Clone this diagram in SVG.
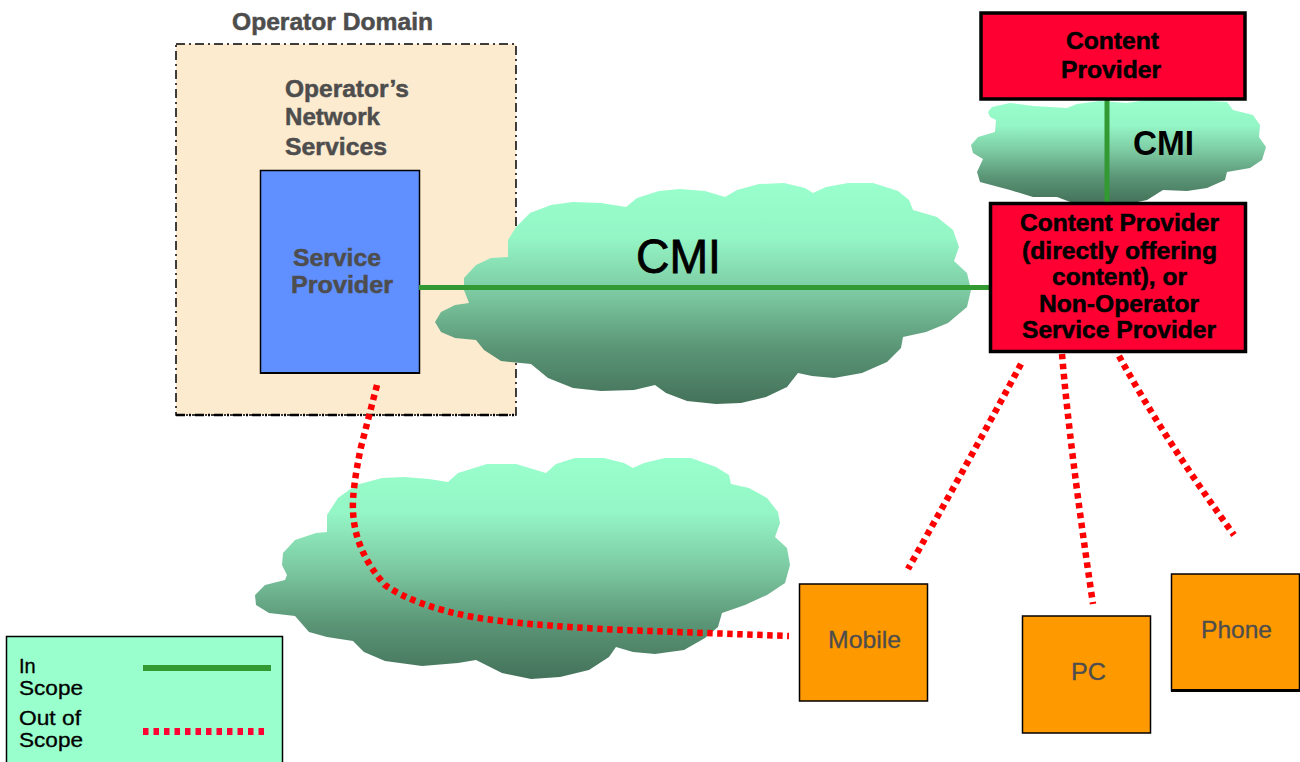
<svg xmlns="http://www.w3.org/2000/svg" width="1300" height="762" viewBox="0 0 1300 762">
<style>
text{font-family:"Liberation Sans",Arial,sans-serif}
.g{fill:#4d4d4d}
.k{fill:#000}
.b{font-weight:bold;font-size:24px}
.hb{stroke-width:.5}
.g.b{stroke:#4d4d4d}
.k.b{stroke:#000}
.r{font-size:24px;stroke:#4d4d4d;stroke-width:.3}
.l{font-size:20px;stroke:#000;stroke-width:.3}
.box{stroke:#000;stroke-width:1.5}
.red{fill:#f03;stroke:#000;stroke-width:3.5}
.or{fill:#f90;stroke:#000;stroke-width:1.5}
.cloud{fill:url(#cg)}
.in{stroke:#393;stroke-width:5;fill:none}
.out{stroke:#f00;stroke-width:6.5;stroke-dasharray:5.5 4.5;fill:none}
</style>
<defs>
<linearGradient id="cg" x1="0" y1="0" x2="0" y2="1">
<stop offset="0" stop-color="#9fc"/>
<stop offset=".25" stop-color="#94f5c5"/>
<stop offset=".5" stop-color="#7cc9a1"/>
<stop offset=".75" stop-color="#5a9576"/>
<stop offset="1" stop-color="#44725a"/>
</linearGradient>
</defs>
<rect width="1300" height="762" fill="#fff"/>

<g id="operator-domain">
<text class="g b hb" x="232" y="30" textLength="201" lengthAdjust="spacingAndGlyphs">Operator Domain</text>
<rect x="176" y="44" width="340" height="371" fill="#fdebcf" stroke="#000" stroke-width="1.5" stroke-dasharray="9 4 2 4"/>
<path d="M176 415H516" stroke="#000" stroke-width="2.5" stroke-dasharray="9 4 2 4" fill="none"/>
<text class="g b hb" x="285" y="97" textLength="124" lengthAdjust="spacingAndGlyphs">Operator’s</text>
<text class="g b hb" x="285" y="125" textLength="95" lengthAdjust="spacingAndGlyphs">Network</text>
<text class="g b hb" x="285" y="155" textLength="102" lengthAdjust="spacingAndGlyphs">Services</text>
</g>
<g id="service-provider">
<rect class="box" x="260.5" y="170.5" width="159" height="202.5" fill="#6090ff"/>
<path d="M260 373H420" stroke="#000" stroke-width="2"/>
<text class="g b hb" x="293" y="266" textLength="88" lengthAdjust="spacingAndGlyphs">Service</text>
<text class="g b hb" x="291" y="293" textLength="102" lengthAdjust="spacingAndGlyphs">Provider</text>
</g>

<g id="cloud-main">
<path class="cloud" d="M508 257L508 240L516 227L530 213L551 205L573 202L601 203L626 207L637 198L659 191L680 189L705 191L725 197L737 190L759 184L784 183L805 188L813 193L826 187L848 183L873 183L898 191L909 200L913 210L937 217L953 230L959 247L954 261L967 273L971 290L967 307L948 323L926 332L903 337L901 348L887 362L862 373L834 378L812 376L798 373L787 387L766 397L741 403L716 404L687 401L666 393L655 385L634 390L601 391L573 388L548 378L531 364L501 361L484 350L476 340L455 338L441 332L435 322L441 312L455 305L469 303L464 290L464 278L476 265L491 258Z"/>
<text x="636" y="273" font-size="48" stroke="#000" stroke-width=".8" textLength="85" lengthAdjust="spacingAndGlyphs">CMI</text>
</g>
<g id="cloud-top">
<path class="cloud" d="M988 112L992 107L1010 103L1033 106L1067 108L1077 104L1100 101L1127 103L1147 100L1193 100L1227 102L1233 110L1253 115L1260 125L1259 137L1266 147L1262 160L1250 168L1227 172L1225 180L1207 188L1187 191L1163 190L1147 200L1133 203L1073 203L1057 197L1033 197L1010 190L980 182L977 172L983 159L973 153L971 145L978 137L995 132L996 120L990 117Z"/>
<text class="k" x="1133" y="155" font-size="35" font-weight="bold" textLength="61" lengthAdjust="spacingAndGlyphs">CMI</text>
</g>
<g id="cloud-lower">
<path class="cloud" d="M327 532L327 515L338 498L356 485L382 478L404 477L429 479L448 482L458 473L487 464L516 464L546 473L556 464L575 458L604 458L624 463L633 468L644 463L665 458L691 458L716 467L729 475L731 484L749 488L767 498L778 512L780 523L775 537L787 548L790 565L785 583L767 595L745 605L722 613L718 627L705 638L684 650L655 654L633 652L616 647L609 657L589 670L560 677L531 679L502 673L476 660L458 663L422 666L385 661L364 652L353 641L327 637L309 632L295 616L269 613L256 605L255 595L265 585L285 580L287 575L282 565L283 553L295 540L316 533Z"/>
</g>

<g id="connectors">
<path class="in" d="M419 287.5H990"/>
<path class="in" d="M1107 99V203"/>
<path class="out" d="M377 385L361 447Q352 490 353 510Q354 550 385 585Q415 606 473 617Q520 625 622 630L789 636"/>
<path class="out" d="M1021 364Q975 450 908 569"/>
<path class="out" d="M1062 354Q1070 450 1093 604"/>
<path class="out" d="M1119 356Q1165 440 1234 535"/>
</g>

<g id="content-provider">
<rect class="red" x="981" y="13" width="264" height="86"/>
<text class="k b hb" x="1066" y="49" textLength="93" lengthAdjust="spacingAndGlyphs">Content</text>
<text class="k b hb" x="1061" y="78" textLength="100" lengthAdjust="spacingAndGlyphs">Provider</text>
</g>
<g id="content-or-service-provider">
<rect class="red" x="990.5" y="203.5" width="255" height="148"/>
<text class="k b hb" x="1020" y="231" textLength="199" lengthAdjust="spacingAndGlyphs">Content Provider</text>
<text class="k b hb" x="1022" y="259" textLength="195" lengthAdjust="spacingAndGlyphs">(directly offering</text>
<text class="k b hb" x="1052" y="285" textLength="135" lengthAdjust="spacingAndGlyphs">content), or</text>
<text class="k b hb" x="1039" y="312" textLength="160" lengthAdjust="spacingAndGlyphs">Non-Operator</text>
<text class="k b hb" x="1022" y="338" textLength="194" lengthAdjust="spacingAndGlyphs">Service Provider</text>
</g>

<g id="mobile">
<rect class="or" x="799.5" y="584" width="128" height="117"/>
<text class="g r" x="828" y="648" textLength="73" lengthAdjust="spacingAndGlyphs">Mobile</text>
</g>
<g id="pc">
<rect class="or" x="1022.5" y="616" width="128" height="117"/>
<text class="g r" x="1071" y="680" textLength="35" lengthAdjust="spacingAndGlyphs">PC</text>
</g>
<g id="phone">
<rect class="or" x="1171.5" y="574" width="128" height="116.5"/>
<path d="M1171 690.5H1300" stroke="#000" stroke-width="3"/>
<text class="g r" x="1201" y="638" textLength="71" lengthAdjust="spacingAndGlyphs">Phone</text>
</g>

<g id="legend">
<rect x="6.5" y="636.5" width="276" height="130" fill="#9fc" stroke="#000" stroke-width="1.5"/>
<text class="k l" x="19" y="673">In</text>
<text class="k l" x="19" y="695" textLength="64" lengthAdjust="spacingAndGlyphs">Scope</text>
<text class="k l" x="19" y="725" textLength="62" lengthAdjust="spacingAndGlyphs">Out of</text>
<text class="k l" x="19" y="747" textLength="64" lengthAdjust="spacingAndGlyphs">Scope</text>
<path d="M143 668H271" stroke="#393" stroke-width="6"/>
<path d="M143 731.5H266" stroke="#f03" stroke-width="7" stroke-dasharray="5.5 5"/>
</g>
</svg>
